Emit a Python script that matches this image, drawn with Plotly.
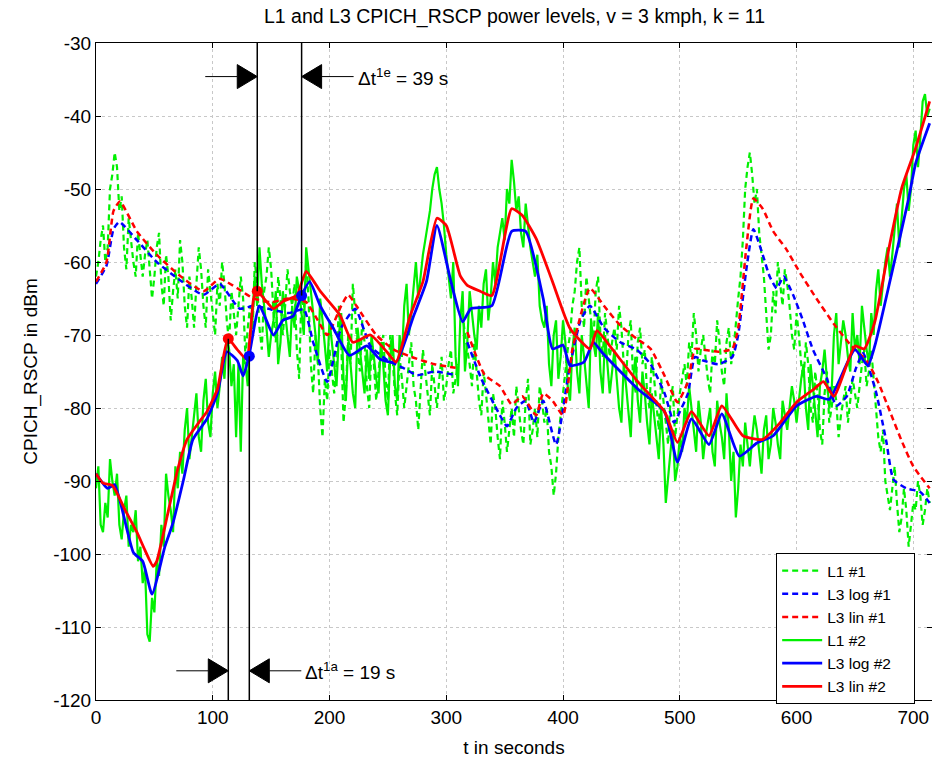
import plotly.graph_objects as go

# ---------------- data ----------------
t_l1 = list(range(0, 716, 2))

l1_1 = [
    -62, -60, -57, -55, -60, -58, -50, -48, -45, -47, -53, -51, -58, -61, -54, -57, -60, -62, -56, -59,
    -62, -59, -57, -61, -65, -62, -58, -56, -63, -66, -59, -62, -68, -64, -61, -65, -57, -60, -66, -69,
    -62, -65, -69, -63, -58, -61, -66, -69, -61, -64, -67, -70, -63, -66, -60, -63, -68, -71, -64, -67,
    -70, -66, -62, -65, -73, -69, -66, -70, -60, -63, -69, -72, -64, -62, -58, -61, -67, -71, -62, -65,
    -70, -66, -61, -64, -66, -63, -72, -76, -64, -67, -60, -65, -74, -78, -70, -73, -80, -84, -76, -79,
    -72, -75, -78, -74, -66, -71, -82, -78, -70, -74, -63, -67, -72, -75, -68, -71, -77, -80, -71, -74,
    -79, -75, -72, -70, -76, -79, -70, -73, -78, -81, -73, -76, -80, -77, -74, -71, -77, -79, -83, -78,
    -72, -75, -78, -81, -74, -77, -80, -76, -73, -79, -77, -74, -72, -78, -76, -74, None, -67, -70, -72,
    -74, -77, -71, -75, -79, -81, -75, -78, -82, -85, -78, -80, -84, -87, -79, -82, -86, -83, -80, -84,
    -77, -80, -83, -85, -79, -76, -85, -83, -80, -84, -77, -79, -82, -80, -86, -88, -92, -89, -84, -81,
    -78, -75, -72, -70, -66, -64, -60, -58, -66, -69, -62, -65, -68, -71, -64, -62, -70, -73, -67, -70,
    -73, -71, -69, -72, -66, -69, -74, -76, -70, -68, -76, -78, -71, -69, -74, -72, -78, -80, -73, -76,
    -80, -83, -76, -79, -82, -85, -79, -77, -84, -81, -78, -76, -74, -77, -71, -73, -67, -70, -75, -72,
    -70, -73, -76, -78, -72, -74, -68, -71, -75, -77, -71, -69, -74, -72, -68, -65, -62, -57, -50, -47,
    -45, -48, -52, -50, -56, -59, -62, -67, -72, -70, -64, -67, -60, -63, -66, -61, -63, -66, -70, -72,
    -67, -70, -74, -76, -71, -74, -80, -82, -75, -78, -83, -85, -78, -75, -82, -80, -77, -79, -84, -81,
    -79, -77, -82, -79, -76, -78, -80, -77, -74, -72, -77, -75, -72, -76, -80, -84, -86, -83, -90, -92,
    -94, -91, -88, -93, -97, -95, -91, -94, -99, -96, -93, -94, -90, -92, -96, -94, -91, -93,
]

l1_2 = [
    -91, -88, -96, -97, -93, -95, -87, -90, -92, -89, -96, -98, -94, -92, -99, -96, -97, -94, -101, -99,
    -104, -102, -111, -112, -106, -108, -101, -103, -96, -99, -89, -92, -94, -97, -88, -91, -86, -89, -83, -80,
    -87, -84, -81, -78, -84, -86, -79, -76, -82, -84, -78, -75, -80, -77, -73, -76, -70, -72, -77, -74,
    -84, -74, -86, -73, -74, -77, -70, -68, -62, -66, -58, -63, -66, -69, -73, -70, -68, -64, -74, -71,
    -64, -67, -70, -73, -66, -69, -62, -64, -67, -70, -58, -61, -64, -67, -70, -74, -65, -68, -72, -75,
    -68, -71, -74, -77, -70, -67, -76, -79, -71, -74, -78, -80, -69, -72, -75, -78, -72, -76, -70, -73,
    -76, -78, -71, -74, -79, -81, -73, -70, -77, -79, -70, -73, -66, -63, -70, -67, -63, -60, -65, -62,
    -59, -57, -55, -53, -50, -48, -47, -50, -52, -55, -59, -62, -65, -60, -73, -77, -68, -64, -75, -71,
    -64, -67, -70, -72, -66, -69, -63, -61, -68, -65, -60, -63, -58, -56, -54, -57, -50, -52, -46, -49,
    -53, -51, -56, -58, -52, -55, -58, -60, -62, -59, -66, -68, -69, -66, -74, -77, -70, -68, -76, -73,
    -68, -71, -77, -79, -72, -69, -75, -78, -70, -73, -77, -80, -68, -71, -73, -67, -75, -78, -70, -74,
    -78, -75, -72, -76, -80, -82, -74, -77, -81, -84, -76, -73, -79, -82, -75, -78, -82, -85, -78, -81,
    -84, -87, -80, -85, -93, -89, -86, -83, -90, -88, -84, -86, -80, -82, -77, -80, -83, -86, -79, -82,
    -87, -84, -82, -80, -86, -88, -79, -82, -84, -87, -78, -83, -90, -86, -95, -91, -85, -88, -82, -85,
    -88, -84, -81, -83, -86, -89, -83, -81, -87, -85, -80, -82, -85, -87, -79, -81, -83, -80, -77, -79,
    -82, -79, -76, -74, -80, -83, -74, -77, -81, -84, -77, -75, -72, -76, -80, -78, -70, -67, -74, -71,
    -68, -70, -73, -75, -67, -72, -70, -74, -66, -69, -72, -74, -67, -70, -64, -61, -66, -63, -60, -58,
    -62, -59, -55, -52, -58, -54, -50, -48, -53, -50, -44, -42, -47, -43, -38, -37, -40, -39,
]

t_log1 = [0, 9, 15, 20, 35, 52, 72, 92, 106, 123, 135, 150, 165, 178, 186, 198,
          210, 222, 235, 250, 263, 275, 290, 308, 312,
          318, 330, 346, 352, 360, 368, 375, 383, 394, 405, 415, 423, 435, 449,
          463, 475, 487, 495, 500, 507, 513, 520, 533, 545, 550, 557, 563, 571,
          577, 583, 589, 597, 605, 614, 626, 634, 643, 651, 657, 668, 677, 683,
          694, 706, 714]
log1 = [-63, -60.5, -55.5, -54.5, -57, -60, -62.5, -64.5, -63, -66.4, -66, -66.5,
        -67, -66.5, -71, -76.4, -69, -66.4, -71.5, -73.5, -74.5, -75.5, -75, -75.5, None,
        -71, -76, -81, -82.5, -80, -79, -82, -79, -85, -75, -68, -66, -69, -71,
        -72, -74, -78, -82, -80.5, -78, -73, -73.5, -74, -73, -70, -61, -55.5, -59,
        -62, -63.6, -62, -64.5, -67.8, -72, -76, -79.7, -78.4, -74.5, -72.5, -77.8,
        -84.7, -89.8, -91, -91.5, -93]

t_lin1 = [0, 9, 15, 20.5, 35, 52, 72, 92, 106, 121, 135, 150, 165, 180, 190, 198,
          210, 216, 223, 240, 255, 270, 290, 308, 312,
          318, 333, 346, 356, 365, 377, 383, 391, 400, 408, 423, 435, 449, 463,
          475, 487, 498, 507, 513, 520, 533, 545, 550, 557, 563, 571, 580, 591,
          603, 617, 632, 647, 660, 670, 680, 690, 700, 714]
lin1 = [-62.7, -60, -53, -51.7, -55.8, -59, -61.9, -64, -62.3, -63.6, -65, -65.5,
        -65, -65.5, -68, -70, -66, -64.5, -66, -70, -72, -73, -74, -74.5, None,
        -69.6, -75.5, -77, -79.5, -78.4, -81, -78, -79, -81, -72, -63.6, -66, -68.7,
        -70.5, -71.9, -75.6, -79.2, -76.4, -71.9, -72, -72.3, -71.9, -69, -58, -51.3,
        -52.7, -55.8, -58.2, -61.5, -65, -68.5, -71.5, -73.5, -76.5, -80.5, -84.5,
        -88, -91]

t_log2 = [0, 10, 16, 32, 40, 48, 59, 66, 75, 83, 95, 104, 112, 121, 126, 131, 140,
          152, 160, 169, 176, 183, 192, 203, 217, 232, 243, 257, 272, 283, 292,
          304, 314, 321, 339, 356, 368, 383, 391, 400, 406, 418, 426, 434, 464,
          487, 498, 510, 525, 536, 551, 566, 580, 600, 617, 628, 650, 661, 667,
          681, 696, 702, 714]
log2 = [-89, -91, -90.5, -99.8, -101, -105.5, -99, -95.7, -89.8, -84.3, -81.5, -78,
        -72.3, -73.5, -75.6, -72.9, -66, -70, -68, -67.4, -64.6, -62.7, -66, -69,
        -72.8, -71.5, -73.3, -73.7, -67.4, -62.7, -55, -62.7, -68.2, -66.4, -66,
        -55.8, -55.8, -65, -71.9, -71.4, -74.2, -73.7, -71, -72.5, -77.4, -80.5,
        -87.4, -81.5, -85, -80.8, -86.6, -84.8, -83.8, -79.7, -78.4, -78.8, -72,
        -74.2, -71.5, -61.9, -51.3, -46.5, -41]

t_lin2 = [0, 6, 14, 25, 35, 42, 49, 52, 61, 70, 78, 88, 95, 104, 113, 121, 129, 135,
          138, 152, 160, 172, 180, 192, 209, 220, 235, 249, 257, 269, 280, 292,
          300, 312, 318, 329, 339, 356, 365, 377, 391, 406, 423, 429, 440, 464,
          487, 498, 510, 525, 536, 554, 571, 586, 600, 615, 623, 632, 650, 658,
          667, 679, 690, 702, 714]
lin2 = [-89, -90.3, -90.6, -94, -97, -99.5, -101.7, -101, -94.8, -88.4, -84.3, -82,
        -80.5, -77.4, -70.5, -72, -73.3, -65, -64, -66.4, -65.4, -64.6, -61.3, -64,
        -67.3, -71, -70, -72.3, -73.7, -67.4, -62.7, -54, -55, -61.9, -63.2, -64,
        -64.6, -52.7, -53.6, -56.8, -62.7, -69.1, -71.9, -69.4, -71.5, -76.4, -80.5,
        -84.7, -80.5, -83.8, -79.7, -83.8, -84.3, -82, -79.2, -77.4, -76.4, -78.4,
        -71.5, -71.9, -68.2, -58.2, -49.9, -44.4, -38]

# event markers (trigger instants)
ev_red_t = [113.3, 138.1]
ev_red_v = [-70.5, -64.0]
ev_blue_t = [131.3, 176.1]
ev_blue_v = [-72.9, -64.6]

x_ticks = [0, 100, 200, 300, 400, 500, 600, 700]
x_tick_labels = ["0", "100", "200", "300", "400", "500", "600", "700"]
y_ticks = [-120, -110, -100, -90, -80, -70, -60, -50, -40, -30]
y_tick_labels = ["-120", "-110", "-100", "-90", "-80", "-70", "-60", "-50", "-40", "-30"]

title_text = "L1 and L3 CPICH_RSCP power levels, v = 3 kmph, k = 11"
x_label = "t in seconds"
y_label = "CPICH_RSCP in dBm"
dt_labels = ["\u0394t<sup>1a</sup> = 19 s", "\u0394t<sup>1e</sup> = 39 s"]
legend_pad = "\u00a0\u00a0\u00a0\u00a0"

# ---------------- figure ----------------
GREEN = "#00f000"
BLUE = "#0000ff"
RED = "#ff0000"
DASH = "6px,4px"
FONT = "Liberation Sans, Arial, Helvetica, sans-serif"

fig = go.Figure()

fig.add_trace(go.Scatter(x=t_l1, y=l1_1, name="L1 #1" + legend_pad, mode="lines",
                         line=dict(color=GREEN, width=2.2, dash=DASH), legendrank=1))
fig.add_trace(go.Scatter(x=t_l1, y=l1_2, name="L1 #2" + legend_pad, mode="lines",
                         line=dict(color=GREEN, width=2.2), legendrank=4))
fig.add_trace(go.Scatter(x=t_log1, y=log1, name="L3 log #1" + legend_pad, mode="lines",
                         line=dict(color=BLUE, width=2.5, dash=DASH, shape="spline",
                                   smoothing=0.5), legendrank=2))
fig.add_trace(go.Scatter(x=t_lin1, y=lin1, name="L3 lin #1" + legend_pad, mode="lines",
                         line=dict(color=RED, width=2.5, dash=DASH, shape="spline",
                                   smoothing=0.5), legendrank=3))
fig.add_trace(go.Scatter(x=t_log2, y=log2, name="L3 log #2" + legend_pad, mode="lines",
                         line=dict(color=BLUE, width=2.8, shape="spline", smoothing=0.5),
                         legendrank=5))
fig.add_trace(go.Scatter(x=t_lin2, y=lin2, name="L3 lin #2" + legend_pad, mode="lines",
                         line=dict(color=RED, width=2.8, shape="spline", smoothing=0.5),
                         legendrank=6))

fig.add_trace(go.Scatter(x=ev_red_t, y=ev_red_v, mode="markers", showlegend=False,
                         marker=dict(color=RED, size=11)))
fig.add_trace(go.Scatter(x=ev_blue_t, y=ev_blue_v, mode="markers", showlegend=False,
                         marker=dict(color=BLUE, size=11)))

shapes = []
bottom_pair = [(ev_red_t[0], ev_red_v[0]), (ev_blue_t[0], ev_blue_v[0])]
top_pair = [(ev_red_t[1], ev_red_v[1]), (ev_blue_t[1], ev_blue_v[1])]
for (tt, vv) in bottom_pair:
    shapes.append(dict(type="line", xref="x", yref="y", x0=tt, x1=tt, y0=y_ticks[0], y1=vv,
                       line=dict(color="black", width=1.5)))
for (tt, vv) in top_pair:
    shapes.append(dict(type="line", xref="x", yref="y", x0=tt, x1=tt, y0=y_ticks[-1], y1=vv,
                       line=dict(color="black", width=1.5)))

arrow_y = [-116.0, -34.6]


def arrows(t_left, t_right, yv):
    out = []
    out.append(dict(type="line", xref="x", yref="y", xsizemode="pixel", xanchor=t_left,
                    x0=-52, x1=-20, y0=yv, y1=yv, line=dict(color="black", width=1)))
    out.append(dict(type="path", xref="x", yref="y", xsizemode="pixel", ysizemode="pixel",
                    xanchor=t_left, yanchor=yv, path="M -20,-12 L 0,0 L -20,12 Z",
                    fillcolor="black", line=dict(color="black", width=1)))
    out.append(dict(type="path", xref="x", yref="y", xsizemode="pixel", ysizemode="pixel",
                    xanchor=t_right, yanchor=yv, path="M 20,-12 L 0,0 L 20,12 Z",
                    fillcolor="black", line=dict(color="black", width=1)))
    out.append(dict(type="line", xref="x", yref="y", xsizemode="pixel", xanchor=t_right,
                    x0=20, x1=52, y0=yv, y1=yv, line=dict(color="black", width=1)))
    return out


shapes += arrows(bottom_pair[0][0], bottom_pair[1][0], arrow_y[0])
shapes += arrows(top_pair[0][0], top_pair[1][0], arrow_y[1])

annotations = [
    dict(x=bottom_pair[1][0], y=arrow_y[0], xref="x", yref="y", text=dt_labels[0],
         showarrow=False, xanchor="left", yanchor="middle", xshift=54,
         font=dict(family=FONT, size=19, color="black")),
    dict(x=top_pair[1][0], y=arrow_y[1], xref="x", yref="y", text=dt_labels[1],
         showarrow=False, xanchor="left", yanchor="middle", xshift=54,
         font=dict(family=FONT, size=19, color="black")),
    dict(x=0.5, y=1, xref="paper", yref="paper", yshift=27, text=title_text,
         showarrow=False, xanchor="center", yanchor="middle",
         font=dict(family=FONT, size=19.5, color="black")),
]

axis_common = dict(showline=True, linecolor="black", linewidth=1, mirror="ticks",
                   ticks="inside", ticklen=5, tickcolor="black", showgrid=True,
                   gridcolor="#c8c8c8", griddash="dot", gridwidth=1, zeroline=False,
                   tickfont=dict(family=FONT, size=19, color="black"))

fig.update_layout(
    width=932, height=762,
    margin=dict(l=96, r=0, t=43, b=62),
    paper_bgcolor="white", plot_bgcolor="white",
    shapes=shapes, annotations=annotations,
    xaxis=dict(range=[0, 716], tickvals=x_ticks, ticktext=x_tick_labels,
               title=dict(text=x_label, font=dict(family=FONT, size=19, color="black"),
                          standoff=13),
               **axis_common),
    yaxis=dict(range=[-120, -30], tickvals=y_ticks, ticktext=y_tick_labels,
               title=dict(text=y_label, font=dict(family=FONT, size=19, color="black"),
                          standoff=10),
               **axis_common),
    legend=dict(x=0.8136, y=0.2237, xanchor="left", yanchor="top",
                bgcolor="white", bordercolor="black", borderwidth=1,
                font=dict(family=FONT, size=15.5, color="black"),
                traceorder="normal", itemwidth=40),
    showlegend=True,
)

fig.write_html("out.html")
